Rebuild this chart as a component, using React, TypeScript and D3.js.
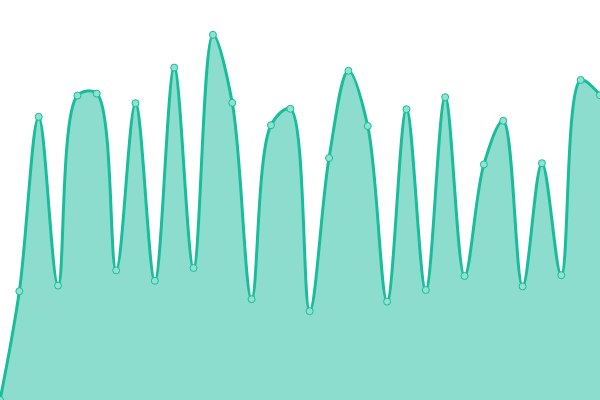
import React, { useEffect, useRef } from 'react';
import * as d3 from 'd3';

const values: number[] = [
    0, 27.2, 70.8, 28.6, 76.1, 76.6, 32.4, 74.2, 29.8, 83.1, 33, 91.3, 74.3, 25.2, 68.7, 72.8,
    22.2, 60.5, 82.3, 68.5, 24.6, 72.7, 27.5, 75.7, 31, 58.9, 69.8, 28.4, 59.2, 31.2, 80, 76.2,
];
const indices: number[] = values.map((_, i) => i);

const App: React.FC = () => {
    const svgRef = useRef<SVGSVGElement>(null);

    useEffect(() => {
        if (!svgRef.current) return;
        document.body.style.margin = '0';

        const width = 600;
        const height = 400;
        const color = '#1abc9c';

        const svg = d3.select(svgRef.current)
            .attr('width', width)
            .attr('height', height);
        svg.selectAll('*').remove();

        const x = d3.scaleLinear()
            .domain([0, indices.length - 1])
            .range([0, width]);
        const y = d3.scaleLinear()
            .domain([0, 100])
            .range([height, 0]);

        const data = indices.map(i => ({ i, v: values[i] }));
        const curve = d3.curveCatmullRom.alpha(0.5);

        const area = d3.area<{ i: number; v: number }>()
            .x(d => x(d.i))
            .y0(height)
            .y1(d => y(d.v))
            .curve(curve);

        const line = d3.line<{ i: number; v: number }>()
            .x(d => x(d.i))
            .y(d => y(d.v))
            .curve(curve);

        svg.append('path')
            .datum(data)
            .attr('d', area)
            .style('fill', color)
            .style('fill-opacity', 0.5);

        svg.append('path')
            .datum(data)
            .attr('d', line)
            .style('fill', 'none')
            .style('stroke', color)
            .style('stroke-width', 3);

        svg.selectAll('.dot')
            .data(data)
            .enter()
            .append('circle')
            .attr('class', 'dot')
            .attr('cx', d => x(d.i))
            .attr('cy', d => y(d.v))
            .attr('r', 3.5)
            .style('fill', '#8de2d0')
            .style('stroke', color)
            .style('stroke-width', 1);
    }, []);

    return (
        <svg ref={svgRef} style={{ display: 'block' }}></svg>
    );
};

export default App;
